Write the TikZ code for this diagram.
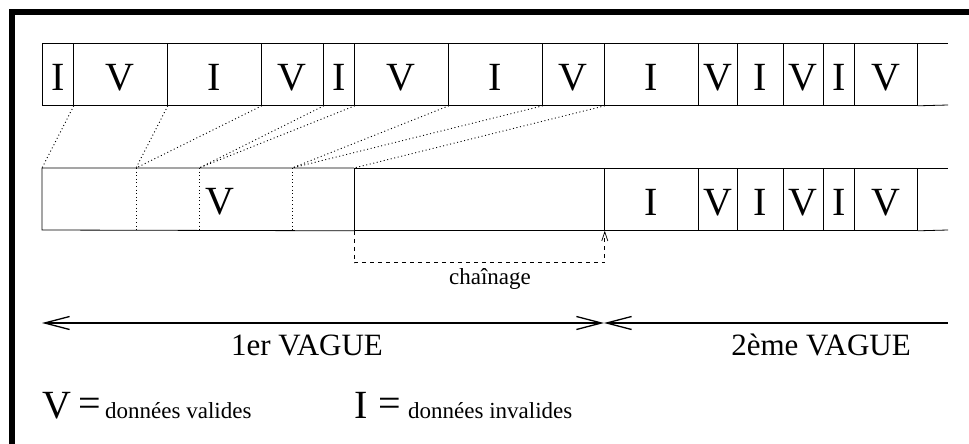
\documentclass[tikz,border=0pt]{standalone}
\usepackage{fontspec}
\setmainfont{Liberation Serif}
\usetikzlibrary{arrows.meta}
\tikzset{
  cell/.style={draw, line width=0.8pt, minimum height=62pt, inner sep=0pt, anchor=north west, text height=31.5pt, text depth=0pt, font=\fontsize{40}{40}\selectfont},
  link/.style={line width=0.9pt, dash pattern=on 1pt off 2.6pt},
  chain/.style={line width=0.7pt, dash pattern=on 4pt off 4pt},
  wave/.style={line width=1.3pt},
  big/.style={inner sep=0pt, font=\fontsize{40}{40}\selectfont},
  small/.style={inner sep=0pt, font=\fontsize{23}{23}\selectfont},
  mid/.style={inner sep=0pt, font=\fontsize{31}{31}\selectfont}
}
\begin{document}
\begin{tikzpicture}[x=1pt,y=-1pt]
     \useasboundingbox (0,0) rectangle (969,444);
     \draw[line width=6pt] (11.5,460) -- (11.5,12.5) -- (980,12.5);
     \foreach \a/\b/\l [count=\i] in {42/73/I,73/167/V,167/261/I,261/323/V,323/354/I,354/448/V,448/542/I,542/604/V,604/698/I,698/737/V,737/783/I,783/823/V,823/854/I,854/917/V}
        \node[cell, minimum width={(\b-\a)*1pt}] (t\i) at (\a,43) {\l};
     \coordinate (tend) at (948,43); \coordinate (tendb) at (948,105);
     \draw[line width=0.8pt] (t14.north east) -- (tend); \draw[line width=0.8pt] (t14.south east) -- (tendb);
     \node[cell, minimum width=250pt] (gap) at (354,168) {};
     \foreach \a/\b/\l [count=\i] in {604/698/I,698/737/V,737/783/I,783/823/V,823/854/I,854/917/V}
        \node[cell, minimum width={(\b-\a)*1pt}] (b\i) at (\a,168) {\l};
     \coordinate (bend) at (948,168); \coordinate (bendb) at (948,230);
     \draw[line width=0.8pt] (b6.north east) -- (bend); \draw[line width=0.8pt] (b6.south east) -- (bendb);
     \draw[line width=0.8pt] (gap.north west) -- (42,168) -- (42,230) -- (gap.south west);
     \coordinate (c0) at (42,168); \coordinate (c1) at (136,168); \coordinate (c2) at (199,168); \coordinate (c3) at (292,168);
     \foreach \c in {c1,c2,c3} \draw[link] (\c) -- ++(0,62);
     \node[big] (vlost) at (220,201.5) {V};
     \draw[link] (t1.south east) -- (c0);
     \draw[link] (t2.south east) -- (c1); \draw[link] (t3.south east) -- (c1);
     \draw[link] (t4.south east) -- (c2); \draw[link] (t5.south east) -- (c2);
     \draw[link] (t6.south east) -- (c3); \draw[link] (t7.south east) -- (c3);
     \draw[link] (t8.south east) -- (gap.north west);
     \draw[chain, -{Straight Barb[length=9pt,width=6pt,line width=0.7pt]}] (gap.south west) -- ++(0,32) -| (gap.south east);
     \node[small, anchor=base] (chainlabel) at (490,284) {chaînage};
     \coordinate (w0) at (42,323); \coordinate (wmid) at (604,323); \coordinate (wend) at (948,323);
     \draw[wave, {Straight Barb[length=25pt,width=13pt]}-{Straight Barb[length=25pt,width=13pt]}] (w0) -- (wmid);
     \draw[wave, {Straight Barb[length=25pt,width=13pt]}-] (wmid) -- (wend);
     \node[mid, anchor=base] (first) at (307,355) {1er VAGUE};
     \node[mid, anchor=base] (second) at (821,355) {2ème VAGUE};
     \node[big, anchor=base west] (keyv) at (42,418) {V};
     \node[big, anchor=base west] (eqv) at (78,416) {=};
     \node[small, anchor=base west] (txtv) at (105,418) {données valides};
     \node[big, anchor=base west] (keyi) at (354,418) {I};
     \node[big, anchor=base west] (eqi) at (378,416) {=};
     \node[small, anchor=base west] (txti) at (408,418) {données invalides};
 \end{tikzpicture}
\end{document}
